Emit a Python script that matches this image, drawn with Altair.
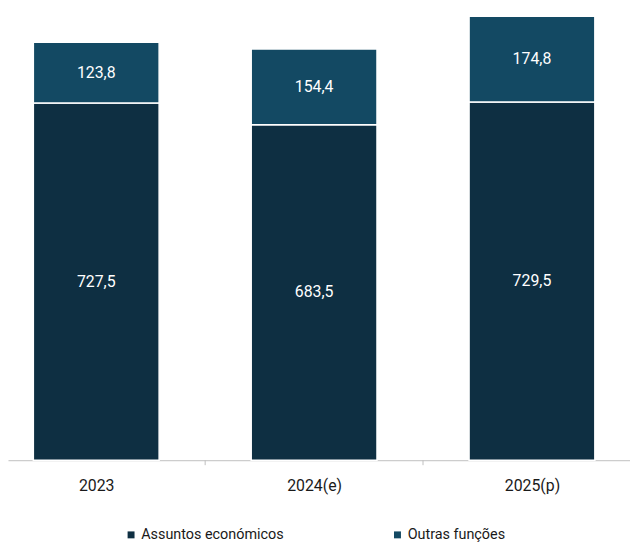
import altair as alt
import pandas as pd

categories = ["2023", "2024(e)", "2025(p)"]
series = ["Assuntos económicos", "Outras funções"]
econ = [727.5, 683.5, 729.5]
outras = [123.8, 154.4, 174.8]
colors = ["#0e2f42", "#134963"]

rows = []
for i, c in enumerate(categories):
    rows.append({"idx": i, "cat": c, "series": series[0], "ord": 0, "value": econ[i]})
    rows.append({"idx": i, "cat": c, "series": series[1], "ord": 1, "value": outras[i]})
df = pd.DataFrame(rows)

W, H = 628, 454
xscale = alt.Scale(domain=[-0.405, 2.45], nice=False, zero=False, padding=0)
yscale = alt.Scale(domain=[0, 916], nice=False)
label_expr = "[" + ",".join("'%s'" % c for c in categories) + "][datum.value]"

base = alt.Chart(df)

bars = base.mark_bar(size=127, stroke="white", strokeWidth=1.5).encode(
    x=alt.X("idx:Q", scale=xscale,
            axis=alt.Axis(title=None, values=[0, 1, 2], labelExpr=label_expr, ticks=False,
                          grid=False, domainColor="#bfbfbf", domainWidth=1,
                          labelFontSize=16, labelFont="Roboto", labelColor="#1a1a1a",
                          labelPadding=18)),
    y=alt.Y("value:Q", stack="zero", scale=yscale, axis=None),
    color=alt.Color("series:N", scale=alt.Scale(domain=series, range=colors),
                    legend=alt.Legend(title=None, orient="none", legendX=117, legendY=522,
                                      direction="horizontal", columns=2, columnPadding=107,
                                      padding=0,
                                      symbolType="square", symbolSize=49, symbolStrokeWidth=0,
                                      labelFontSize=14.5, labelFont="Roboto", labelColor="#1a1a1a",
                                      labelOffset=3)),
    order=alt.Order("ord:Q", sort="ascending"),
)

texts = base.transform_stack(
    stack="value", as_=["y0", "y1"], groupby=["idx"], sort=[alt.SortField("ord")]
).transform_calculate(
    mid="(datum.y0 + datum.y1) / 2",
    lbl="replace(format(datum.value, '.1f'), '.', ',')",
).mark_text(color="white", fontSize=16, font="Roboto").encode(
    x=alt.X("idx:Q", scale=xscale),
    y=alt.Y("mid:Q", scale=yscale),
    text="lbl:N",
)

tick_df = pd.DataFrame({"t": [0.5, 1.5]})
ticks = alt.Chart(tick_df).mark_rule(color="#bfbfbf", strokeWidth=1).encode(
    x=alt.X("t:Q", scale=xscale),
    y=alt.value(H),
    y2=alt.value(H + 5),
)

chart = alt.layer(bars, texts, ticks).properties(
    width=W, height=H, padding=0
).configure_view(stroke=None)

chart.save("out.html", embed_options={"renderer": "svg", "actions": False})
